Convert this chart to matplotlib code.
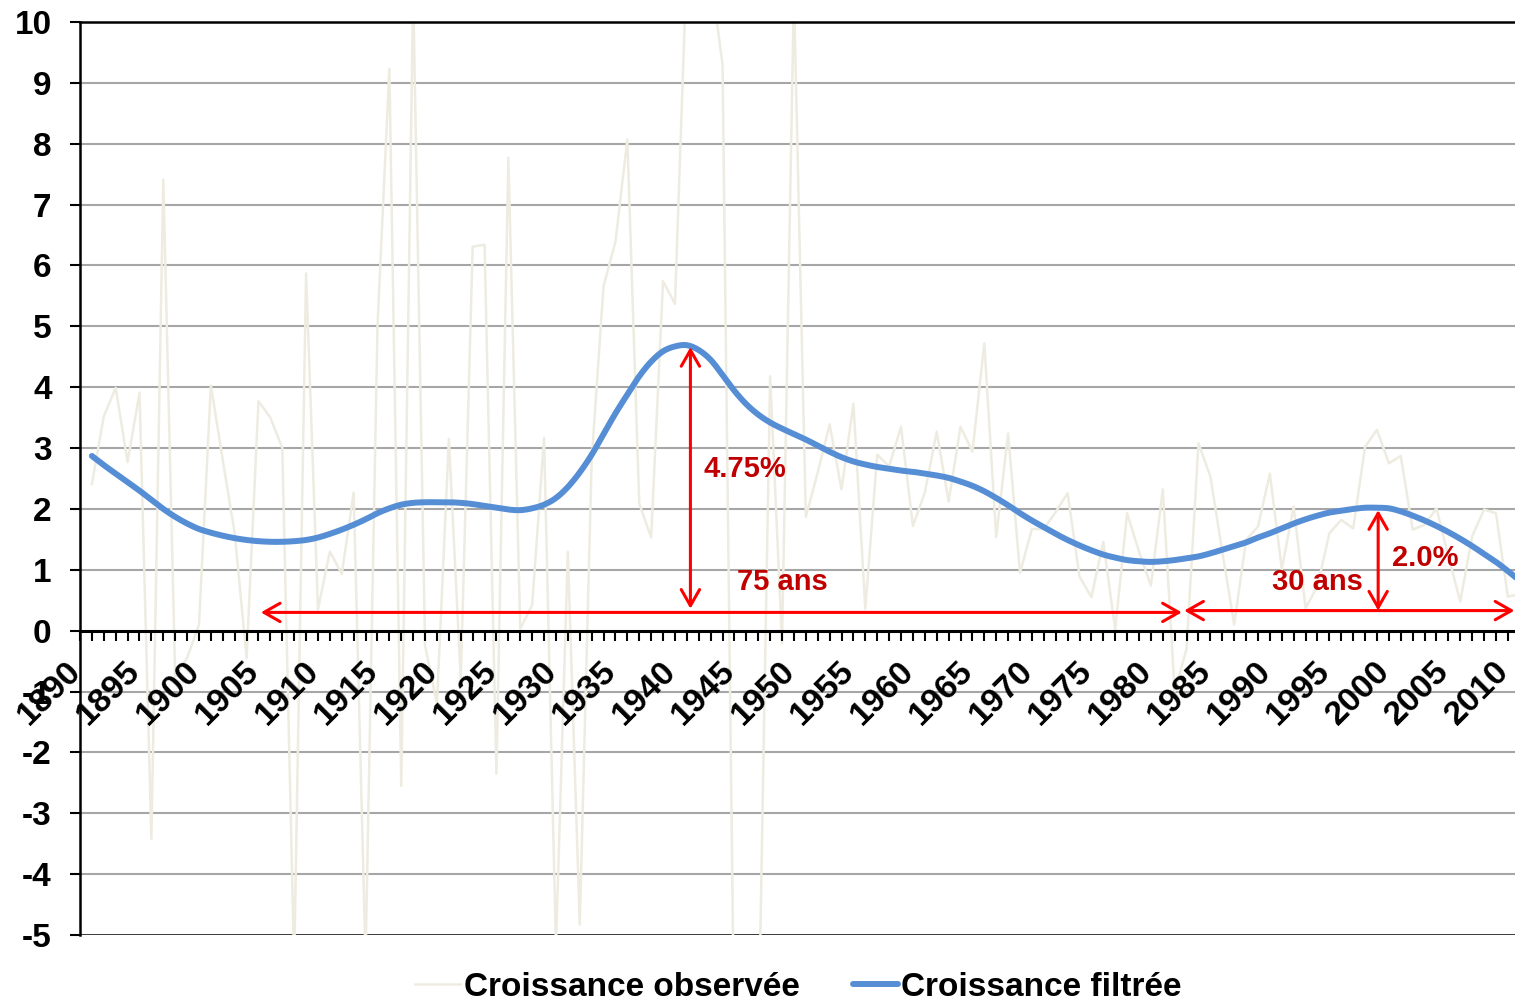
import numpy as np
import matplotlib
matplotlib.use("Agg")
import matplotlib.pyplot as plt
from matplotlib.patches import ArrowStyle
from matplotlib.transforms import ScaledTranslation

plt.rcParams["font.family"] = ["Liberation Sans", "DejaVu Sans"]
plt.rcParams["font.weight"] = "bold"
plt.rcParams["axes.unicode_minus"] = False

# --- data --------------------------------------------------------------
years = list(range(1891, 2012))

observed = [
    2.41, 3.52, 3.99, 2.77, 3.91, -3.42, 7.41, -0.75, -0.45, 0.10,   # 1891-1900
    4.03, 2.80, 1.60, -0.45, 3.77, 3.50, 3.00, -5.50, 5.87, 0.35,    # 1901-1910
    1.30, 0.93, 2.27, -5.40, 5.00, 9.23, -2.55, 10.50, -0.25, -1.20, # 1911-1920
    3.15, -0.80, 6.31, 6.34, -2.35, 7.77, 0.03, 0.42, 3.17, -5.20,   # 1921-1930
    1.30, -4.83, 2.80, 5.66, 6.39, 8.07, 2.09, 1.53, 5.74, 5.37,     # 1931-1940
    11.0, 11.5, 10.8, 9.30, -7.00, -8.00, -7.00, 4.18, -0.20, 10.5,  # 1941-1950
    1.87, 2.60, 3.39, 2.32, 3.73, 0.36, 2.89, 2.70, 3.35, 1.72,      # 1951-1960
    2.27, 3.27, 2.12, 3.35, 2.94, 4.72, 1.54, 3.24, 0.95, 1.67,      # 1961-1970
    1.67, 1.95, 2.26, 0.89, 0.55, 1.46, 0.02, 1.93, 1.30, 0.74,      # 1971-1980
    2.32, -1.00, -0.30, 3.08, 2.53, 1.30, 0.10, 1.49, 1.71, 2.58,    # 1981-1990
    1.01, 2.04, 0.37, 0.73, 1.60, 1.82, 1.68, 3.02, 3.30, 2.75,      # 1991-2000
    2.87, 1.66, 1.74, 2.01, 1.22, 0.48, 1.55, 1.99, 1.93, 0.56,      # 2001-2010
    0.60,                                                            # 2011
]

filtered = [
    2.87, 2.72, 2.58, 2.44, 2.30, 2.15, 2.00, 1.87, 1.76, 1.67,      # 1891-1900
    1.61, 1.56, 1.52, 1.49, 1.47, 1.46, 1.46, 1.47, 1.49, 1.53,      # 1901-1910
    1.59, 1.66, 1.74, 1.83, 1.93, 2.01, 2.07, 2.10, 2.11, 2.11,      # 1911-1920
    2.11, 2.10, 2.08, 2.05, 2.02, 1.99, 1.98, 2.01, 2.07, 2.18,      # 1921-1930
    2.36, 2.60, 2.89, 3.23, 3.57, 3.88, 4.18, 4.42, 4.59, 4.67,      # 1931-1940
    4.69, 4.61, 4.45, 4.20, 3.94, 3.72, 3.55, 3.42, 3.32, 3.23,      # 1941-1950
    3.14, 3.04, 2.94, 2.85, 2.78, 2.73, 2.69, 2.66, 2.63, 2.61,      # 1951-1960
    2.58, 2.55, 2.51, 2.45, 2.38, 2.29, 2.18, 2.06, 1.93, 1.81,      # 1961-1970
    1.70, 1.59, 1.49, 1.40, 1.32, 1.25, 1.20, 1.16, 1.14, 1.13,      # 1971-1980
    1.14, 1.16, 1.19, 1.22, 1.27, 1.33, 1.39, 1.45, 1.53, 1.60,      # 1981-1990
    1.68, 1.76, 1.83, 1.89, 1.94, 1.97, 2.00, 2.02, 2.02, 2.01,      # 1991-2000
    1.96, 1.89, 1.81, 1.72, 1.62, 1.51, 1.39, 1.26, 1.13, 0.98,      # 2001-2010
    0.82,                                                            # 2011
]

label_years = list(range(1890, 2011, 5))
y_ticks = list(range(-5, 11))

# annotations: (x0, y0, x1, y1)
arrows = [
    (1941.3, 0.36, 1941.3, 4.66),
    (1905.2, 0.30, 1982.6, 0.30),
    (1982.8, 0.33, 2010.55, 0.33),
    (1999.1, 0.33, 1999.1, 1.98),
]
notes = [
    ("4.75%", 1942.4, 2.66, "left"),
    ("75 ans", 1945.2, 0.80, "left"),
    ("30 ans", 1997.8, 0.80, "right"),
    ("2.0%", 2000.3, 1.20, "left"),
]


def smooth_line(x, y, steps=12):
    # Catmull-Rom drawing, like a "smoothed line" series in a spreadsheet
    x = np.asarray(x, float)
    y = np.asarray(y, float)
    px = np.concatenate([[2 * x[0] - x[1]], x, [2 * x[-1] - x[-2]]])
    py = np.concatenate([[2 * y[0] - y[1]], y, [2 * y[-1] - y[-2]]])
    t = np.linspace(0, 1, steps, endpoint=False)
    xs, ys = [], []
    for i in range(1, len(px) - 2):
        for p, out in ((px, xs), (py, ys)):
            p0, p1, p2, p3 = p[i - 1], p[i], p[i + 1], p[i + 2]
            out.append(0.5 * (2 * p1 + (p2 - p0) * t
                              + (2 * p0 - 5 * p1 + 4 * p2 - p3) * t ** 2
                              + (3 * p1 - p0 - 3 * p2 + p3) * t ** 3))
    xs.append([x[-1]])
    ys.append([y[-1]])
    return np.concatenate(xs), np.concatenate(ys)


# --- figure --------------------------------------------------------------
fig = plt.figure(figsize=(15.15, 10), dpi=100)
ax = fig.add_axes([80 / 1515, 65 / 1000, 1435 / 1515, 913 / 1000])
ax.set_axisbelow(False)

ax.set_xlim(1890, 2010.6)
ax.set_ylim(-5, 10)

for y in y_ticks:
    if y in (-5, 10, 0):
        continue
    ax.axhline(y, color="#A6A6A6", lw=1.5, zorder=0)
ax.axhline(-5, color="black", lw=1.8, zorder=1)

ax.plot(years, observed, color="#EEECE1", lw=1.8, zorder=2,
        label="Croissance observée")
sx, sy = smooth_line(years, filtered)
ax.plot(sx, sy, color="#558ED5", lw=4.3, zorder=3,
        solid_capstyle="round", label="Croissance filtrée")

style = ArrowStyle("<->", head_length=0.58, head_width=0.33)
for x0, y0, x1, y1 in arrows:
    ax.annotate("", xy=(x1, y1), xytext=(x0, y0),
                arrowprops=dict(arrowstyle=style, color="#FF0000", lw=2.2,
                                mutation_scale=20, shrinkA=0, shrinkB=0),
                zorder=5, annotation_clip=False)

for txt, x, y, ha in notes:
    ax.text(x, y, txt, color="#C00000", fontsize=21, fontweight="bold",
            ha=ha, va="center", zorder=6)

# axes / ticks
ax.spines["right"].set_visible(False)
ax.spines["top"].set_linewidth(1.8)
ax.spines["left"].set_linewidth(1.8)
ax.spines["bottom"].set_position(("data", 0))
ax.spines["bottom"].set_linewidth(2.2)

ax.set_yticks(y_ticks)
ax.tick_params(axis="y", direction="out", length=7.5, width=1.5, pad=13,
               labelsize=24)

ax.set_xticks(range(1890, 2011))
ax.set_xticklabels([str(y) if y in label_years else "" for y in range(1890, 2011)])
ax.tick_params(axis="x", direction="out", length=7, width=1.5, pad=11,
               labelsize=24.5)
offset = ScaledTranslation(7 / 100, 0, fig.dpi_scale_trans)
for lab in ax.get_xticklabels():
    lab.set_rotation(45)
    lab.set_ha("right")
    lab.set_va("top")
    lab.set_transform(lab.get_transform() + offset)
for lab in ax.get_yticklabels() + ax.get_xticklabels():
    lab.set_fontweight("bold")

fig.legend(loc="center", bbox_to_anchor=(0.527, 0.013), ncol=2, frameon=False,
           handlelength=1.35, handletextpad=0.1, columnspacing=1.6,
           prop={"weight": "bold", "size": 24})

fig.savefig("out.png", dpi=100)
